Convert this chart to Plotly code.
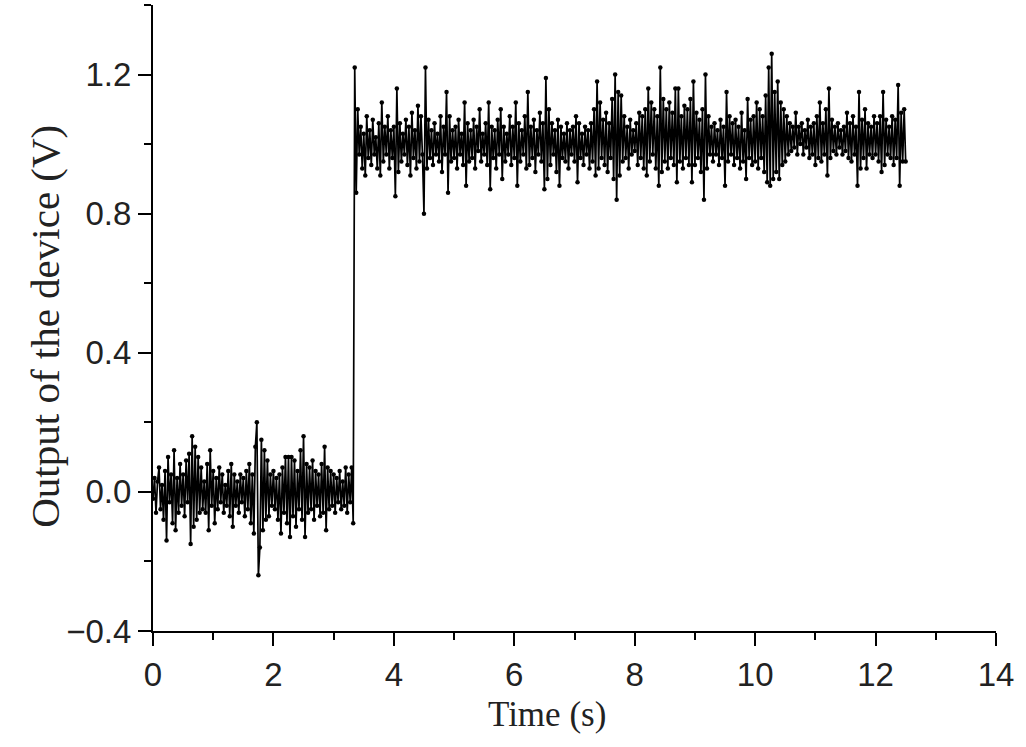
"""Step response of the device output over time, noisy trace."""

import plotly.graph_objects as go

# sampling step of the recorded trace (s)
SAMPLE_DT = 0.025

# device output (V), one sample per SAMPLE_DT starting at t = 0
output_v = [
    # 0.0 - 0.475
    -0.02, 0.04, -0.06, 0.03, 0.07, -0.05, 0.02, -0.08, 0.06, -0.14,
    0.10, -0.03, 0.05, -0.09, 0.12, -0.11, 0.04, -0.06, 0.08, -0.04,
    # 0.5 - 0.975
    0.05, -0.07, 0.09, -0.03, 0.11, -0.15, 0.16, -0.10, 0.13, -0.08,
    0.10, -0.06, 0.07, -0.05, 0.03, -0.06, 0.08, -0.11, 0.12, -0.04,
    # 1.0 - 1.475
    0.06, -0.09, 0.04, -0.05, 0.07, -0.03, 0.05, -0.06, 0.02, -0.04,
    0.06, -0.07, 0.08, -0.10, 0.05, -0.04, 0.03, -0.06, 0.05, -0.03,
    # 1.5 - 1.975
    0.04, -0.07, 0.06, -0.05, 0.08, -0.09, 0.05, -0.12, 0.13, 0.20,
    -0.24, -0.16, 0.15, -0.11, 0.12, -0.08, 0.09, -0.07, 0.05, -0.04,
    # 2.0 - 2.475
    0.06, -0.05, 0.04, -0.08, 0.05, -0.12, 0.07, -0.06, 0.10, -0.09,
    0.10, -0.13, 0.10, -0.07, 0.09, -0.10, 0.06, -0.05, 0.12, -0.08,
    # 2.5 - 2.975
    0.16, -0.13, 0.08, -0.06, 0.07, -0.05, 0.09, -0.08, 0.06, -0.04,
    0.05, -0.07, 0.08, -0.06, 0.13, -0.11, 0.07, -0.05, 0.06, -0.04,
    # 3.0 - 3.325
    0.05, -0.06, 0.04, -0.03, 0.06, -0.05, 0.03, -0.04, 0.07, -0.06,
    0.05, -0.03, 0.07, -0.09,
    # 3.35 - 3.475 (step)
    1.22, 0.86, 1.10, 0.97, 1.05, 0.93,
    # 3.5 - 3.975
    1.03, 0.91, 1.08, 0.96, 1.04, 0.94, 1.07, 0.97, 1.02, 0.93,
    1.06, 0.91, 1.12, 0.95, 1.05, 0.97, 1.08, 0.93, 1.04, 0.96,
    # 4.0 - 4.475
    1.05, 0.85, 1.16, 0.92, 1.06, 0.95, 1.03, 0.97, 1.07, 0.94,
    1.05, 0.91, 1.09, 0.96, 1.04, 0.93, 1.11, 0.95, 1.08, 0.97,
    # 4.5 - 4.975
    0.80, 1.22, 0.93, 1.07, 0.96, 1.04, 0.94, 1.06, 0.97, 1.03,
    0.95, 1.08, 0.92, 1.05, 0.97, 1.15, 0.86, 1.08, 0.95, 1.04,
    # 5.0 - 5.475
    0.96, 1.05, 0.93, 1.07, 0.97, 1.03, 0.94, 1.12, 0.88, 1.06,
    0.95, 1.04, 0.96, 1.07, 0.93, 1.05, 0.98, 1.10, 0.95, 1.03,
    # 5.5 - 5.975
    0.97, 1.06, 0.94, 1.12, 0.87, 1.05, 0.96, 1.04, 0.93, 1.07,
    0.97, 1.10, 0.90, 1.05, 0.95, 1.03, 0.97, 1.08, 0.94, 1.05,
    # 6.0 - 6.475
    0.96, 1.12, 0.88, 1.06, 0.95, 1.04, 0.97, 1.08, 0.93, 1.15,
    0.94, 1.05, 0.96, 1.07, 0.92, 1.04, 0.97, 1.09, 0.95, 1.06,
    # 6.5 - 6.975
    0.87, 1.19, 0.90, 1.10, 0.94, 1.06, 0.97, 1.04, 0.92, 1.07,
    0.88, 1.05, 0.96, 1.03, 0.95, 1.06, 0.93, 1.04, 0.97, 1.05,
    # 7.0 - 7.475
    0.95, 1.08, 0.89, 1.06, 0.96, 1.03, 0.94, 1.05, 0.97, 1.04,
    0.93, 1.06, 0.95, 1.10, 0.91, 1.18, 0.93, 1.12, 0.96, 1.07,
    # 7.5 - 7.975
    0.94, 1.09, 0.92, 1.06, 0.96, 1.13, 0.90, 1.20, 0.84, 1.15,
    0.91, 1.14, 0.95, 1.08, 0.96, 1.05, 0.93, 1.07, 0.97, 1.04,
    # 8.0 - 8.475
    0.98, 1.06, 0.94, 1.09, 0.96, 1.08, 0.93, 1.10, 0.91, 1.16,
    0.95, 1.12, 0.97, 1.10, 0.93, 1.08, 0.88, 1.22, 0.92, 1.13,
    # 8.5 - 8.975
    0.95, 1.10, 0.93, 1.12, 0.96, 1.09, 0.94, 1.16, 0.89, 1.16,
    0.95, 1.08, 0.93, 1.11, 0.96, 1.10, 0.94, 1.13, 0.89, 1.18,
    # 9.0 - 9.475
    0.94, 1.09, 0.96, 1.07, 0.92, 1.10, 0.84, 1.20, 0.93, 1.08,
    0.97, 1.05, 0.95, 1.06, 0.97, 1.04, 0.94, 1.07, 0.96, 1.05,
    # 9.5 - 9.975
    0.88, 1.15, 0.95, 1.08, 0.97, 1.06, 0.94, 1.07, 0.96, 1.05,
    0.93, 1.09, 0.95, 1.04, 0.90, 1.13, 0.96, 1.07, 0.94, 1.08,
    # 10.0 - 10.475
    0.95, 1.12, 0.93, 1.10, 0.96, 1.08, 0.92, 1.14, 0.89, 1.22,
    0.88, 1.26, 0.90, 1.15, 0.92, 1.18, 0.90, 1.12, 0.94, 1.10,
    # 10.5 - 10.975
    0.95, 1.08, 0.97, 1.06, 0.98, 1.05, 0.99, 1.09, 0.97, 1.05,
    1.00, 1.06, 0.97, 1.04, 0.99, 1.07, 0.96, 1.05, 0.97, 1.06,
    # 11.0 - 11.475
    0.94, 1.08, 0.96, 1.12, 0.95, 1.06, 0.97, 1.10, 0.91, 1.16,
    0.96, 1.07, 0.98, 1.05, 0.97, 1.06, 0.99, 1.04, 0.97, 1.05,
    # 11.5 - 11.975
    0.98, 1.09, 0.96, 1.06, 0.95, 1.08, 0.97, 1.05, 0.88, 1.15,
    0.93, 1.07, 0.96, 1.10, 0.93, 1.06, 0.97, 1.05, 0.96, 1.08,
    # 12.0 - 12.475
    0.97, 1.06, 0.95, 1.08, 0.92, 1.15, 0.94, 1.07, 0.97, 1.05,
    0.96, 1.08, 0.94, 1.07, 0.96, 1.17, 0.88, 1.09, 0.95, 1.10,
    # 12.5
    0.95,
]

time_s = [round(i * SAMPLE_DT, 3) for i in range(len(output_v))]

x_ticks = [0, 2, 4, 6, 8, 10, 12, 14]
y_ticks = [-0.4, 0.0, 0.4, 0.8, 1.2]

TICK_FONT = dict(family="Liberation Sans, Arial", size=33, color="#222")
TITLE_FONT = "Liberation Serif, Times New Roman"

fig = go.Figure()

fig.add_trace(go.Scatter(
    x=time_s,
    y=output_v,
    mode="lines+markers",
    line=dict(color="black", width=1.7),
    marker=dict(color="black", size=4.5),
    showlegend=False,
))

axis_common = dict(
    showline=True,
    linecolor="black",
    linewidth=2,
    showgrid=False,
    zeroline=False,
    ticks="outside",
    ticklen=13,
    tickwidth=2,
    tickcolor="black",
    tickfont=TICK_FONT,
)

fig.update_xaxes(
    range=[0, 14],
    tickvals=x_ticks,
    minor=dict(ticks="outside", dtick=1, ticklen=7, tickwidth=2, tickcolor="black", showgrid=False),
    **axis_common,
)
fig.update_yaxes(
    range=[-0.4, 1.4],
    tickvals=y_ticks,
    tickformat=".1f",
    minor=dict(ticks="outside", tick0=-0.4, dtick=0.2, ticklen=7, tickwidth=2, tickcolor="black", showgrid=False),
    **axis_common,
)

fig.add_annotation(
    text="Time (s)", xref="paper", yref="paper", x=0.467, y=0,
    xanchor="center", yanchor="middle", yshift=-83, showarrow=False,
    font=dict(family=TITLE_FONT, size=35, color="#222"),
)
fig.add_annotation(
    text="Output of the device (V)", xref="paper", yref="paper", x=0, y=0.486,
    xanchor="center", yanchor="middle", xshift=-108, textangle=-90, showarrow=False,
    font=dict(family=TITLE_FONT, size=41, color="#222"),
)

fig.update_layout(
    width=1026,
    height=747,
    margin=dict(l=153, r=30, t=5, b=116),
    plot_bgcolor="white",
    paper_bgcolor="white",
)

# drop the browser's default body margin so the figure sits at the page origin
fig.write_html(
    "out.html",
    config={"displayModeBar": False},
    post_script="document.body.style.margin = '0';",
)
